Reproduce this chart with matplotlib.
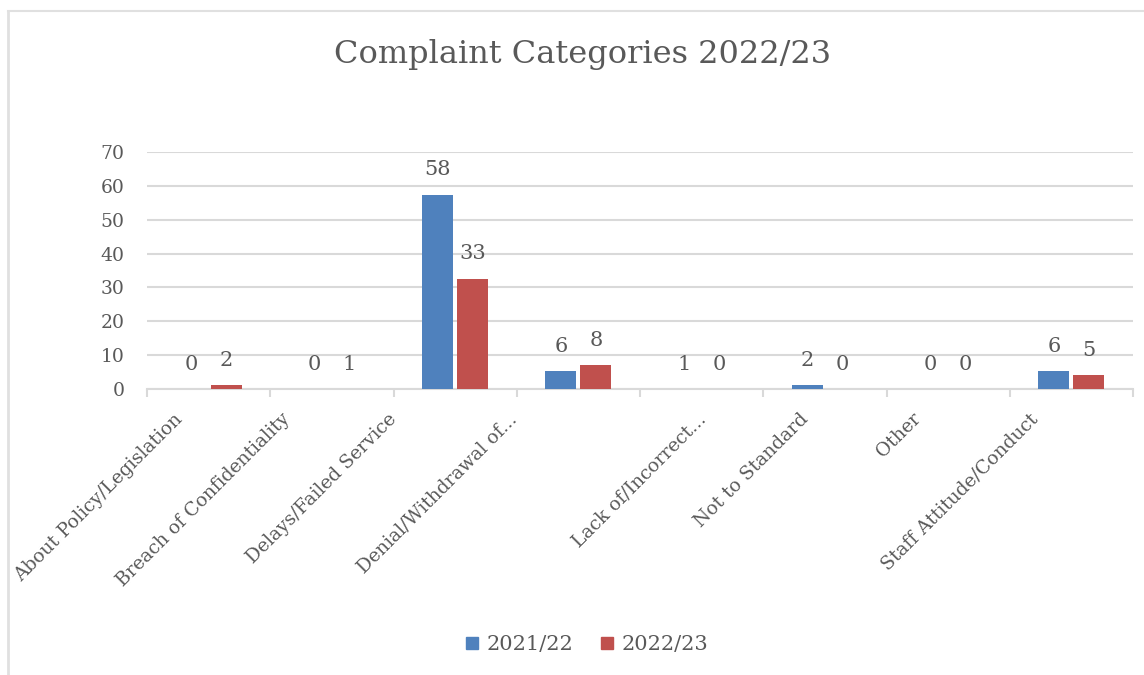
import matplotlib
matplotlib.use('Agg')
import matplotlib.pyplot as plt
import matplotlib.transforms as mtransforms
from matplotlib.lines import Line2D
import numpy as np

categories = ['About Policy/Legislation', 'Breach of Confidentiality', 'Delays/Failed Service',
              'Denial/Withdrawal of...', 'Lack of/Incorrect...', 'Not to Standard', 'Other',
              'Staff Attitude/Conduct']
series_names = ['2021/22', '2022/23']
# bar heights as drawn in the chart
bars_2122 = [0, 0, 57.3, 5.3, 0, 1.1, 0, 5.3]
bars_2223 = [1.1, 0, 32.5, 7.0, 0, 0, 0, 4.05]
# data label texts as printed in the chart
labels_2122 = ['0', '0', '58', '6', '1', '2', '0', '6']
labels_2223 = ['2', '1', '33', '8', '0', '0', '0', '5']
yticks = [0, 10, 20, 30, 40, 50, 60, 70]

blue = '#4f81bd'
red = '#c0504d'
grey_text = '#595959'
grid_col = '#d9d9d9'

plt.rcParams['font.family'] = ['DejaVu Serif']

fig = plt.figure(figsize=(11.44, 6.75), dpi=100)
ax = fig.add_axes([147/1144, 1-389/675, (1133-147)/1144, (389-152)/675])

x = np.arange(len(categories))
w = 0.25
off = 0.142
ax.bar(x - off, bars_2122, width=w, color=blue, zorder=3)
ax.bar(x + off, bars_2223, width=w, color=red, zorder=3)

for xs, hs, ls in [(x - off, bars_2122, labels_2122), (x + off, bars_2223, labels_2223)]:
    for xi, h, lab in zip(xs, hs, ls):
        ax.annotate(lab, (xi, h), xytext=(0, 18), textcoords='offset points',
                    ha='center', va='center', fontsize=15, color=grey_text)

ax.set_xlim(-0.5, len(categories) - 0.5)
ax.set_ylim(0, 70)
ax.set_yticks(yticks)
ax.tick_params(axis='y', length=0, pad=16, labelsize=13.5, labelcolor=grey_text)
ax.yaxis.grid(True, color=grid_col, linewidth=1.5, zorder=0)

ax.set_xticks(x)
ax.set_xticklabels(categories, rotation=45, ha='right', rotation_mode='anchor',
                   fontsize=13.5, color=grey_text)
ax.tick_params(axis='x', which='major', length=0, pad=15)
ax.set_xticks(np.arange(-0.5, len(categories), 1), minor=True)
ax.tick_params(axis='x', which='minor', length=6, width=1.5, color=grid_col)
# excel places the rotated labels a bit unevenly, nudge each one (pixels)
label_shift_px = [-35, -51, -68, -71, -5, -26, -36, -42]
for lbl, dx in zip(ax.get_xticklabels(), label_shift_px):
    shift = mtransforms.ScaledTranslation(dx/100, 0, fig.dpi_scale_trans)
    lbl.set_transform(lbl.get_transform() + shift)

for s in ['top', 'right', 'left']:
    ax.spines[s].set_visible(False)
ax.spines['bottom'].set_color(grid_col)
ax.spines['bottom'].set_linewidth(1.5)

fig.text(583/1144, 1-55/675, 'Complaint Categories 2022/23', ha='center', va='center',
         fontsize=23, color=grey_text)

handles = [Line2D([], [], marker='s', linestyle='none', color=c, markersize=8)
           for c in (blue, red)]
fig.legend(handles, series_names, loc='center', bbox_to_anchor=(586/1144, 1-645/675),
           ncol=2, frameon=False, fontsize=15, labelcolor=grey_text,
           handletextpad=0.3, columnspacing=1.2, handlelength=0.8)

# chart border
fig.add_artist(Line2D([8/1144, 1], [1-11/675, 1-11/675], color='#e0e0e0', linewidth=1.5))
fig.add_artist(Line2D([8/1144, 8/1144], [0, 1-11/675], color='#e0e0e0', linewidth=2))

fig.savefig('out.png', dpi=100)
